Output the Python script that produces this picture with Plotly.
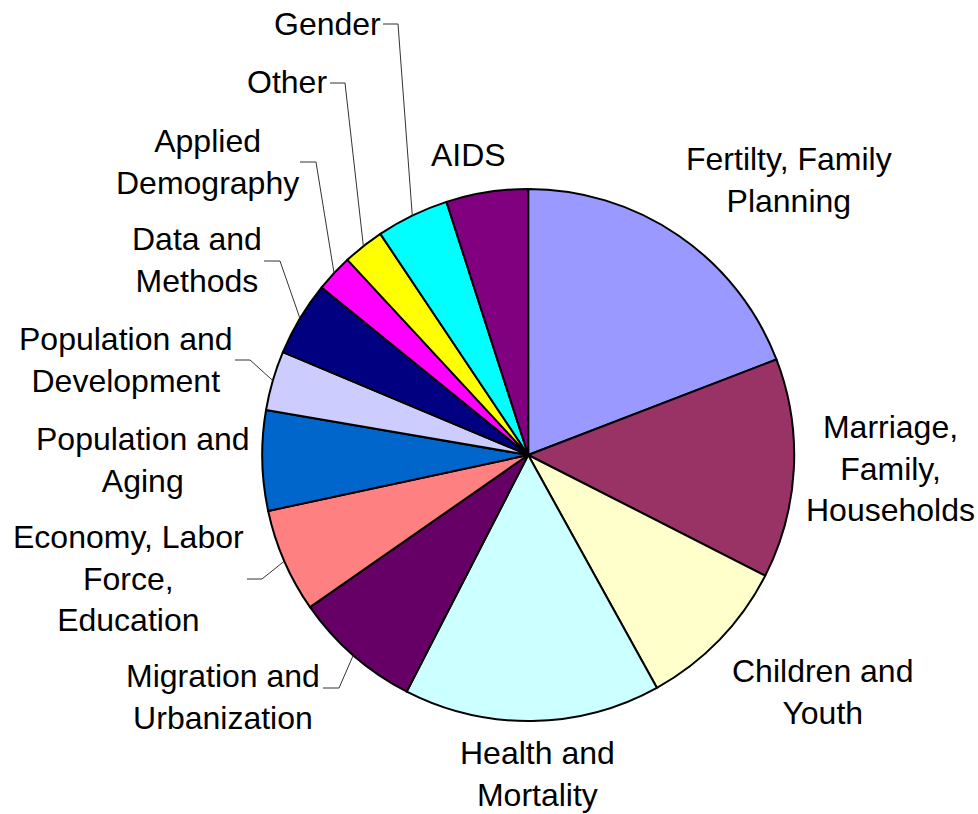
import math
import plotly.graph_objects as go

# ---- data ----
categories = [
    "Fertilty, Family Planning", "Marriage, Family, Households", "Children and Youth",
    "Health and Mortality", "Migration and Urbanization", "Economy, Labor Force, Education",
    "Population and Aging", "Population and Development", "Data and Methods",
    "Applied Demography", "Other", "Gender", "AIDS",
]
values = [19.15, 13.34, 9.47, 15.58, 7.76, 6.32, 6.08, 3.61, 4.53, 2.26, 2.51, 4.41, 4.97]
label_text = [
    "Fertilty, Family<br>Planning", "Marriage,<br>Family,<br>Households", "Children and<br>Youth",
    "Health and<br>Mortality", "Migration and<br>Urbanization", "Economy, Labor<br>Force,<br>Education",
    "Population and<br>Aging", "Population and<br>Development", "Data and<br>Methods",
    "Applied<br>Demography", "Other", "Gender", "AIDS",
]

# ---- styles / layout ----
colors = ["#9999FF", "#993366", "#FFFFCC", "#CCFFFF", "#660066", "#FF8080", "#0066CC",
          "#CCCCFF", "#000080", "#FF00FF", "#FFFF00", "#00FFFF", "#800080"]
W, H = 978, 814
CX, CY, R = 528.2, 455.0, 266.0
FONT = dict(family="Liberation Sans, Arial, sans-serif", size=32, color="black")

# label block centres (pixels) and optional leader line (label end x, elbow x, y)
label_pos = {
    0: (789, 180), 1: (890, 468), 2: (822, 692), 3: (537, 774), 4: (223, 697),
    5: (128, 578), 6: (143, 460), 7: (126, 360), 8: (197, 260), 9: (207, 162),
    10: (287, 82), 11: (327, 24), 12: (468, 155),
}
leaders = {
    4: (323, 339, 688), 5: (247, 262, 579), 7: (235, 250, 360), 8: (264, 280, 261),
    9: (300, 316, 162), 10: (330, 345, 83), 11: (383, 398, 24),
}

def px(x):
    return x / W

def py(y):
    return 1 - y / H

fig = go.Figure(go.Pie(
    labels=categories, values=values, sort=False, direction="clockwise", rotation=0,
    marker=dict(colors=colors, line=dict(color="black", width=2)),
    textinfo="none", hoverinfo="label+percent", showlegend=False,
    domain=dict(x=[px(CX - R), px(CX + R)], y=[py(CY + R), py(CY - R)]),
))

total = sum(values)
cum = 0.0
mid_angles = []
for v in values:
    mid_angles.append((cum + v / 2) / total * 360.0)
    cum += v

annotations = []
shapes = []
for i, txt in enumerate(label_text):
    x, y = label_pos[i]
    annotations.append(dict(x=px(x), y=py(y), xref="paper", yref="paper", text=txt,
                            showarrow=False, xanchor="center", yanchor="middle",
                            align="center", font=FONT))
    if i in leaders:
        x0, x1, yl = leaders[i]
        a = math.radians(mid_angles[i])
        ax = CX + R * math.sin(a)
        ay = CY - R * math.cos(a)
        path = f"M {px(x0)},{py(yl)} L {px(x1)},{py(yl)} L {px(ax)},{py(ay)}"
        shapes.append(dict(type="path", xref="paper", yref="paper", path=path,
                           line=dict(color="#333333", width=1)))

fig.update_layout(
    width=W, height=H, margin=dict(l=0, r=0, t=0, b=0),
    paper_bgcolor="white", plot_bgcolor="white",
    annotations=annotations, shapes=shapes,
)
fig.write_html("out.html", config={"displayModeBar": False},
               post_script="document.body.style.margin='0';document.body.style.overflow='hidden';")
